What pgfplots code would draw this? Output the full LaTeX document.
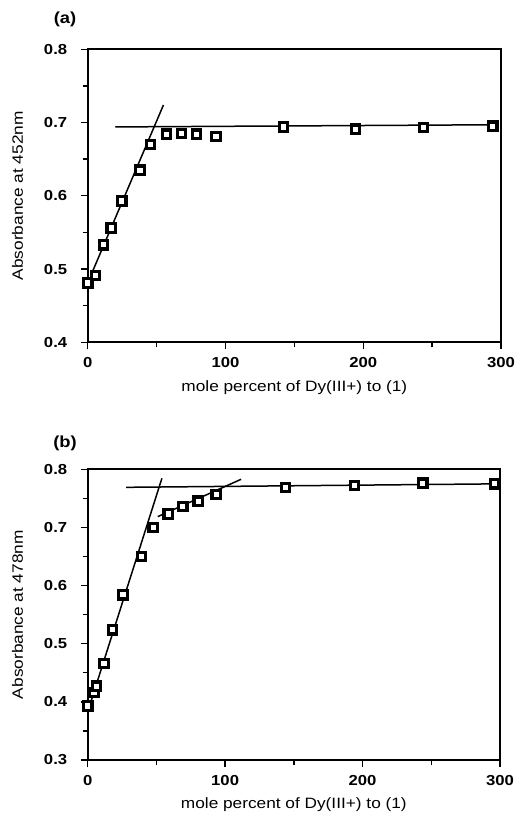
\documentclass[border=0pt]{standalone}
\usepackage{fontspec}
\setmainfont{Liberation Sans}[FakeStretch=1.15]
\usepackage{pgfplots}
\pgfplotsset{compat=1.18}
\begin{document}
\begin{tikzpicture}
\useasboundingbox (0,0) rectangle (526bp,813bp);
\pgfplotsset{
 myax/.style={
  scale only axis, xmin=0, xmax=300,
  axis line style={line width=2bp},
  every tick/.style={line width=1.4bp, black},
  major tick length=7bp, minor tick length=5bp,
  tick align=outside,
  xtick={0,100,200,300}, minor xtick={50,150,250},
  xtick pos=bottom, ytick pos=left,
  /pgf/number format/assume math mode=true,
  tick label style={font=\fontsize{14.5bp}{16bp}\selectfont\bfseries},
  xticklabel style={yshift=-5bp},
  yticklabel style={xshift=-10bp, /pgf/number format/.cd, fixed, fixed zerofill, precision=1},
  label style={font=\fontsize{15bp}{17bp}\selectfont},
  xlabel={mole percent of Dy(III+) to (1)},
  xlabel style={at={(axis description cs:0.5,0)}, anchor=center, yshift=-45bp},
  ylabel style={at={(axis description cs:-0.17,0.5)}, anchor=center},
  clip=false,
 },
 pts/.style={only marks, mark=square*, mark size=4.2bp,
  mark options={fill=white, draw=black, line width=3.2bp}},
 ln/.style={black, line width=1.5bp, no marks},
}
\begin{axis}[myax, at={(87.7bp,470.7bp)}, anchor=south west,
  width=413.3bp, height=293bp,
  ymin=0.4, ymax=0.8, ytick={0.4,0.5,0.6,0.7,0.8}, minor ytick={0.45,0.55,0.65,0.75},
  ylabel={Absorbance at 452nm}]
\addplot[ln] coordinates {(2,0.490) (55,0.724)};
\addplot[ln] coordinates {(20,0.694) (297,0.697)};
\addplot[pts] coordinates {
(0,0.481) (5.8,0.491) (11.4,0.533) (17,0.556) (24.7,0.593) (38,0.635) (45.7,0.670)
(57.3,0.684) (68.2,0.685) (79.1,0.684) (93.2,0.681) (142,0.694) (194.5,0.691) (243.6,0.693) (294,0.695)};
\end{axis}
\begin{axis}[myax, at={(87.7bp,53bp)}, anchor=south west,
  width=412.3bp, height=290.7bp,
  ymin=0.3, ymax=0.8, ytick={0.3,0.4,0.5,0.6,0.7,0.8}, minor ytick={0.35,0.45,0.55,0.65,0.75},
  ylabel={Absorbance at 478nm}]
\addplot[ln] coordinates {(0,0.383) (54,0.7845)};
\addplot[ln] coordinates {(28,0.769) (299,0.775)};
\addplot[ln] coordinates {(51,0.7186) (111.6,0.7828)};
\addplot[pts] coordinates {
(0,0.393) (4.6,0.416) (6.3,0.427) (11.9,0.466) (18,0.524) (25.7,0.584) (39.2,0.650) (47.7,0.700)
(58.6,0.723) (69.2,0.736) (80.4,0.745) (93.5,0.757) (143.8,0.769) (194,0.772) (243.8,0.776) (296,0.775)};
\end{axis}
\node[font=\fontsize{16bp}{18bp}\selectfont\bfseries] at (65bp,793.5bp) {(a)};
\node[font=\fontsize{16bp}{18bp}\selectfont\bfseries] at (65bp,370bp) {(b)};
\end{tikzpicture}
\end{document}
